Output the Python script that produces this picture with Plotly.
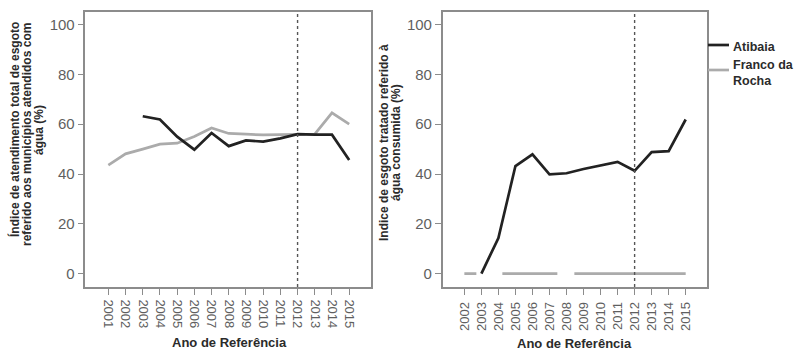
import plotly.graph_objects as go

# Years for each panel
years_left = list(range(2001, 2016))
years_right = list(range(2002, 2016))

# Índice de atendimento total de esgoto (%)
atibaia_atend = [None, None, 63.2, 61.9, 55.0, 49.8, 56.5, 51.2, 53.5, 53.0, 54.3, 56.0, 55.8, 55.8, 45.6]
franco_atend = [43.6, 48.1, 50.0, 52.0, 52.4, 55.1, 58.5, 56.3, 56.0, 55.7, 55.8, 56.0, 56.0, 64.6, 60.0]

# Índice de esgoto tratado referido à água consumida (%)
atibaia_trat = [None, 0.0, 14.3, 43.2, 47.9, 39.9, 40.3, 42.0, 43.3, 44.9, 41.3, 48.8, 49.2, 61.9]
franco_trat = [0.0] * 14

y_ticks = [0, 20, 40, 60, 80, 100]
marker_year = 2012

BLACK = "#222222"
GRAY = "#ababab"
FRAME = "#8c8c8c"
TICKTXT = "#5f5f5f"
TITLE = "#2b2b2b"
FONT = "Liberation Sans, Arial, sans-serif"
NARROW = "Liberation Sans Narrow, Arial Narrow, Liberation Sans, sans-serif"

fig = go.Figure()

fig.add_trace(go.Scatter(x=years_left, y=franco_atend, mode="lines", name="Franco da Rocha",
                         line=dict(color=GRAY, width=2.7), xaxis="x", yaxis="y", showlegend=False))
fig.add_trace(go.Scatter(x=years_left, y=atibaia_atend, mode="lines", name="Atibaia",
                         line=dict(color=BLACK, width=2.7), xaxis="x", yaxis="y", showlegend=False))
fig.add_trace(go.Scatter(x=years_right, y=franco_trat, mode="lines", name="Franco da Rocha",
                         line=dict(color=GRAY, width=2.7, dash="12px,26px,55px,17px,150px,50px"),
                         xaxis="x2", yaxis="y2", showlegend=False))
fig.add_trace(go.Scatter(x=years_right, y=atibaia_trat, mode="lines", name="Atibaia",
                         line=dict(color=BLACK, width=2.7), xaxis="x2", yaxis="y2", showlegend=False))

axis_common = dict(showline=True, linecolor=FRAME, linewidth=1.6, mirror=True,
                   showgrid=False, zeroline=False, ticks="outside", ticklen=6,
                   tickcolor=FRAME, tickwidth=1.2)
xfont = dict(family=FONT, size=13, color=TICKTXT)
yfont = dict(family=NARROW, size=15, color=TICKTXT)

fig.update_layout(
    width=795, height=350,
    margin=dict(l=0, r=0, t=0, b=0),
    paper_bgcolor="white", plot_bgcolor="white",
    showlegend=False,
    xaxis=dict(domain=[0.1075, 0.4667], range=[1999.67, 2016.27],
               tickmode="array", tickvals=years_left, ticktext=[str(y) for y in years_left],
               tickangle=90, anchor="y", tickfont=xfont, ticklabelstandoff=2, **axis_common),
    yaxis=dict(domain=[0.18, 0.9657], range=[-5.4, 105.1], tickvals=y_ticks,
               anchor="x", tickfont=yfont, **axis_common),
    xaxis2=dict(domain=[0.5569, 0.8897], range=[2000.73, 2016.27],
                tickmode="array", tickvals=years_right, ticktext=[str(y) for y in years_right],
                tickangle=-90, anchor="y2", tickfont=xfont, ticklabelstandoff=2, **axis_common),
    yaxis2=dict(domain=[0.18, 0.9657], range=[-5.4, 105.1], tickvals=y_ticks,
                anchor="x2", tickfont=yfont, **axis_common),
)

# Reference year marker
for xr, yr in (("x", "y"), ("x2", "y2")):
    fig.add_shape(type="line", xref=xr, yref=f"{yr} domain", x0=marker_year, x1=marker_year,
                  y0=0, y1=1, line=dict(color="#555555", width=1.4, dash="dot"), layer="above")


def ann(text, x, y, angle=0, xanchor="center", size=12, align="center"):
    fig.add_annotation(text=text, x=x / 795, y=1 - y / 350, xref="paper", yref="paper",
                       showarrow=False, textangle=angle, xanchor=xanchor, yanchor="middle",
                       align=align, font=dict(family=FONT, size=size, color=TITLE))

# Axis titles
ann("<b>Índice de atendimento total de esgoto</b>", 14, 130, -90)
ann("<b>referido aos municípios atendidos com</b>", 27, 135, -90)
ann("<b>água (%)</b>", 39, 130, -90)
ann("<b>Indice de esgoto tratado referido à</b>", 384, 143, -90)
ann("<b>água consumida (%)</b>", 396, 143, -90)
ann("<b>Ano de Referência</b>", 229, 342, size=13)
ann("<b>Ano de Referência</b>", 574, 343, size=13)

# Legend
fig.add_shape(type="line", xref="paper", yref="paper", x0=708 / 795, x1=729 / 795,
              y0=1 - 45 / 350, y1=1 - 45 / 350, line=dict(color=BLACK, width=2.7))
fig.add_shape(type="line", xref="paper", yref="paper", x0=708 / 795, x1=729 / 795,
              y0=1 - 70 / 350, y1=1 - 70 / 350, line=dict(color=GRAY, width=2.7))
ann("<b>Atibaia</b>", 731, 47, xanchor="left", size=12.5, align="left")
ann("<b>Franco da<br>Rocha</b>", 731, 73, xanchor="left", size=12.5, align="left")

fig.write_html("out.html")
